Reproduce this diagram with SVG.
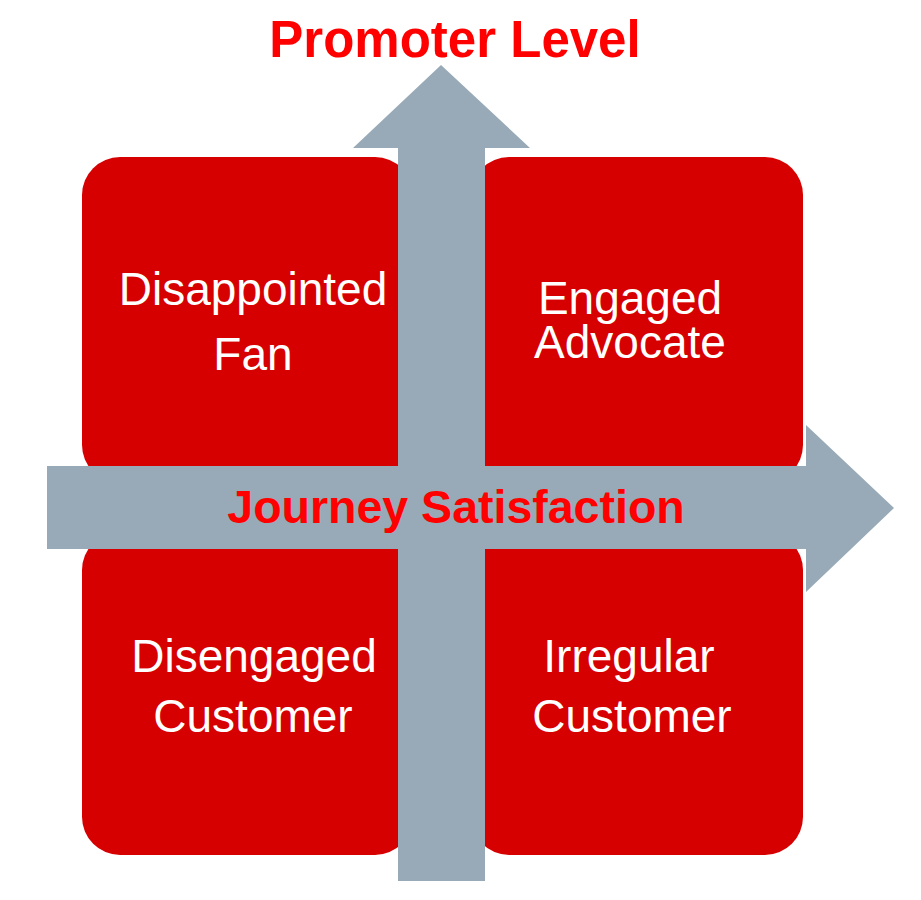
<svg xmlns="http://www.w3.org/2000/svg" width="921" height="900" viewBox="0 0 921 900">
<style>
.box{fill:#D70000}
.arrow{fill:#98AAB7}
.lbl{fill:#FFFFFF;font-family:"Liberation Sans",Arial,sans-serif;font-size:46px;text-anchor:middle}
.axis{fill:#FF0000;font-family:"Liberation Sans",Arial,sans-serif;font-weight:bold;text-anchor:middle}
</style>
<rect width="921" height="900" fill="#FFFFFF"/>
<g id="q-disappointed-fan">
<rect class="box" x="82" y="157" width="331" height="326" rx="38" ry="38"/>
<text class="lbl" x="253" y="305">Disappointed</text>
<text class="lbl" x="253" y="370">Fan</text>
</g>
<g id="q-engaged-advocate">
<rect class="box" x="471" y="157" width="332" height="326" rx="38" ry="38"/>
<text class="lbl" x="630" y="314">Engaged</text>
<text class="lbl" x="630" y="358">Advocate</text>
</g>
<g id="q-disengaged-customer">
<rect class="box" x="82" y="532" width="331" height="323" rx="38" ry="38"/>
<text class="lbl" x="254" y="672">Disengaged</text>
<text class="lbl" x="253" y="732">Customer</text>
</g>
<g id="q-irregular-customer">
<rect class="box" x="471" y="532" width="332" height="323" rx="38" ry="38"/>
<text class="lbl" x="629" y="672">Irregular</text>
<text class="lbl" x="632" y="732">Customer</text>
</g>
<g id="connectors">
<polygon id="axis-journey" class="arrow" points="47,466 806,466 806,425 894,508 806,592 806,549 47,549"/>
<polygon id="axis-promoter" class="arrow" points="441,65 530,148 485,148 485,881 398,881 398,148 353,148"/>
</g>
<g id="labels">
<text class="axis" x="455" y="57" font-size="51">Promoter Level</text>
<text class="axis" x="456" y="523" font-size="46.5">Journey Satisfaction</text>
</g>
</svg>
